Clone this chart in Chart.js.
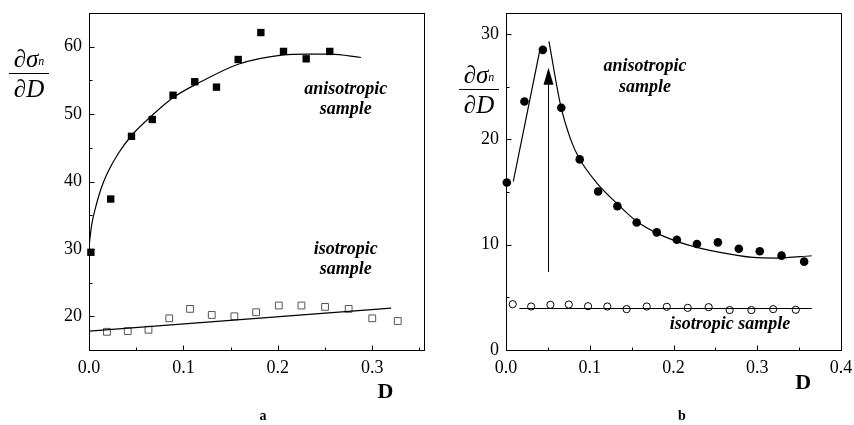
<!DOCTYPE html>
<html>
<head>
<meta charset="utf-8">
<script src="https://cdn.jsdelivr.net/npm/chart.js@4"></script>
<style>
  html, body { margin: 0; padding: 0; background: #fff; }
  #wrap { position: relative; width: 854px; height: 425px; }
  #left { position: absolute; left: 0; top: 0; }
  #right { position: absolute; left: 430px; top: 0; }
</style>
</head>
<body>
<div id="wrap">
  <canvas id="left" width="430" height="425"></canvas>
  <canvas id="right" width="424" height="425"></canvas>
</div>
<script>
// ---- panel a: measured points
const aAnisoD   = [0.002, 0.023, 0.045, 0.067, 0.089, 0.112, 0.135, 0.158, 0.182, 0.206, 0.230, 0.255];
const aAnisoVal = [29.5, 37.4, 46.7, 49.2, 52.8, 54.8, 54.0, 58.1, 62.1, 59.3, 58.2, 59.3];
const aIsoD     = [0.019, 0.041, 0.063, 0.085, 0.107, 0.130, 0.154, 0.177, 0.201, 0.225, 0.250, 0.275, 0.300, 0.327];
const aIsoVal   = [17.7, 17.8, 18.0, 19.7, 21.1, 20.2, 20.0, 20.6, 21.6, 21.6, 21.4, 21.1, 19.7, 19.3];
// panel a: fitted curves
const aAnisoFitD   = [0, 0.003, 0.008, 0.0132, 0.020, 0.031, 0.0447, 0.066, 0.0885, 0.120, 0.158, 0.204, 0.232, 0.256, 0.288];
const aAnisoFitVal = [30.4, 33.7, 36.7, 39.1, 41.4, 44.15, 46.75, 49.7, 52.4, 54.9, 57.4, 58.75, 58.9, 58.9, 58.4];
const aIsoFitD     = [0, 0.320];
const aIsoFitVal   = [17.8, 21.2];

// ---- panel b: measured points
const bAnisoD   = [0.001, 0.022, 0.044, 0.066, 0.088, 0.110, 0.133, 0.156, 0.180, 0.204, 0.228, 0.253, 0.278, 0.303, 0.329, 0.356];
const bAnisoVal = [15.9, 23.6, 28.5, 23.0, 18.1, 15.05, 13.66, 12.1, 11.17, 10.47, 10.06, 10.22, 9.62, 9.37, 8.96, 8.39];
const bIsoD     = [0.008, 0.030, 0.053, 0.075, 0.098, 0.121, 0.144, 0.168, 0.192, 0.217, 0.242, 0.267, 0.293, 0.319, 0.346];
const bIsoVal   = [4.35, 4.13, 4.29, 4.32, 4.16, 4.13, 3.88, 4.13, 4.10, 4.0, 4.07, 3.79, 3.79, 3.88, 3.82];
// panel b: fitted curves
const bRiseFitD    = [0.0087, 0.040];
const bRiseFitVal  = [16.0, 28.3];
const bDecayFitD   = [0.0513, 0.0653, 0.0772, 0.087, 0.108, 0.134, 0.156, 0.180, 0.216, 0.2555, 0.295, 0.323, 0.365];
const bDecayFitVal = [29.3, 23.2, 20.0, 18.25, 15.9, 13.8, 12.22, 11.1, 10.0, 9.27, 8.79, 8.73, 8.95];
const bIsoFitD     = [0.016, 0.365];
const bIsoFitVal   = [3.94, 3.94];
// arrow marking the peak
const bArrowD = 0.05;
const bArrowFrom = 7.4;
const bArrowTo = 26.8;

// ---- ticks
const aXTicks = [0, 0.1, 0.2, 0.3];
const aXMinor = [0.05, 0.15, 0.25, 0.35];
const aYTicks = [20, 30, 40, 50, 60];
const aYMinor = [25, 35, 45, 55];
const bXTicks = [0, 0.1, 0.2, 0.3, 0.4];
const bXMinor = [0.05, 0.15, 0.25, 0.35];
const bYTicks = [0, 10, 20, 30];
const bYMinor = [5, 15, 25];

const pts = (xs, ys) => xs.map((x, i) => ({ x, y: ys[i] }));
const SERIF = '"Liberation Serif", "Times New Roman", serif';

function drawFraction(ctx, cx, barY) {
  ctx.textBaseline = 'alphabetic';
  ctx.font = 'italic 25px ' + SERIF;
  const wNum = ctx.measureText('∂σ').width;
  ctx.font = 'italic 12px ' + SERIF;
  const wSub = ctx.measureText('n').width;
  const start = cx - (wNum + wSub) / 2;
  ctx.textAlign = 'left';
  ctx.font = 'italic 25px ' + SERIF;
  ctx.fillText('∂σ', start, barY - 6);
  ctx.font = 'italic 12px ' + SERIF;
  ctx.fillText('n', start + wNum, barY - 8);
  ctx.fillRect(cx - 20, barY, 40, 1);
  ctx.textAlign = 'center';
  ctx.font = 'italic 25px ' + SERIF;
  ctx.fillText('∂D', cx, barY + 24);
}

const decorPlugin = {
  id: 'decor',
  afterDatasetsDraw(chart, args, o) {
    const { ctx, chartArea: a, scales: { x, y } } = chart;
    ctx.save();
    ctx.strokeStyle = '#000';
    ctx.fillStyle = '#000';
    ctx.lineWidth = 1;
    const L = Math.round(a.left) + 0.5, R = Math.round(a.right) + 0.5;
    const T = Math.round(a.top) + 0.5, B = Math.round(a.bottom) + 0.5;
    ctx.strokeRect(L, T, R - L, B - T);

    // inward ticks
    ctx.beginPath();
    const xt = (v, len) => { const p = Math.round(x.getPixelForValue(v)) + 0.5; ctx.moveTo(p, B); ctx.lineTo(p, B - len); };
    const yt = (v, len) => { const p = Math.round(y.getPixelForValue(v)) + 0.5; ctx.moveTo(L, p); ctx.lineTo(L + len, p); };
    o.xMajor.forEach(v => xt(v, 5));
    o.xMinor.forEach(v => { if (v < x.max) xt(v, 3); });
    o.yMajor.forEach(v => yt(v, 5));
    o.yMinor.forEach(v => yt(v, 3));
    ctx.stroke();

    if (o.arrow) {
      const ax = Math.round(x.getPixelForValue(o.arrow.d)) + 0.5;
      const y0 = y.getPixelForValue(o.arrow.from);
      const tip = y.getPixelForValue(o.arrow.to);
      ctx.beginPath();
      ctx.moveTo(ax, y0);
      ctx.lineTo(ax, tip + 8);
      ctx.stroke();
      ctx.beginPath();
      ctx.moveTo(ax, tip);
      ctx.lineTo(ax - 5, tip + 17);
      ctx.lineTo(ax + 5, tip + 17);
      ctx.closePath();
      ctx.fill();
    }

    ctx.textAlign = 'center';
    ctx.textBaseline = 'middle';
    ctx.font = 'italic bold 18px ' + SERIF;
    o.notes.forEach(n => ctx.fillText(n.text, x.getPixelForValue(n.x), y.getPixelForValue(n.y)));

    ctx.font = 'bold 22px ' + SERIF;
    ctx.fillText('D', x.getPixelForValue(o.dAt), B + o.dDrop);

    ctx.font = 'bold 14px ' + SERIF;
    ctx.fillText(o.letter, o.letterX, 416);

    drawFraction(ctx, o.fracX, o.fracBar);
    ctx.restore();
  }
};

function axis(min, max, ticks, fmt, size, pad) {
  return {
    type: 'linear',
    min, max,
    afterFit: s => {
      if (s.isHorizontal()) s.height = size; else s.width = size;
      // let the layout padding alone decide the plot box
      s.paddingTop = 0; s.paddingBottom = 0; s.paddingLeft = 0; s.paddingRight = 0;
    },
    afterBuildTicks: s => { s.ticks = ticks.map(v => ({ value: v })); },
    grid: { display: false, drawTicks: false },
    border: { display: false },
    ticks: {
      color: '#000',
      font: { family: SERIF, size: 18 },
      padding: pad,
      maxRotation: 0,
      autoSkip: false,
      callback: fmt
    }
  };
}

function fitLine(data) {
  return {
    data, showLine: true, pointRadius: 0, borderColor: '#000', borderWidth: 1.2,
    tension: 0.4, cubicInterpolationMode: 'monotone', fill: false
  };
}

new Chart(document.getElementById('left'), {
  type: 'scatter',
  data: {
    datasets: [
      fitLine(pts(aAnisoFitD, aAnisoFitVal)),
      fitLine(pts(aIsoFitD, aIsoFitVal)),
      { data: pts(aAnisoD, aAnisoVal), pointStyle: 'rect', pointRadius: 5.2,
        backgroundColor: '#000', borderWidth: 0, clip: false },
      { data: pts(aIsoD, aIsoVal), pointStyle: 'rect', pointRadius: 4.8,
        backgroundColor: '#fff', borderColor: '#555', borderWidth: 1, clip: false }
    ]
  },
  options: {
    responsive: false,
    animation: false,
    events: [],
    layout: { padding: { top: 13, right: 3, left: 0, bottom: 0 } },
    plugins: {
      legend: { display: false },
      tooltip: { enabled: false },
      decor: {
        xMajor: aXTicks, xMinor: aXMinor, yMajor: aYTicks, yMinor: aYMinor,
        notes: [
          { text: 'anisotropic', x: 0.272, y: 53.6 },
          { text: 'sample', x: 0.272, y: 50.7 },
          { text: 'isotropic', x: 0.272, y: 30.0 },
          { text: 'sample', x: 0.272, y: 27.0 }
        ],
        dAt: 0.314, dDrop: 42, letter: 'a', letterX: 263,
        fracX: 29, fracBar: 73
      }
    },
    scales: {
      x: axis(0, 0.355, aXTicks, v => v.toFixed(1), 75, 7),
      y: axis(15, 65, aYTicks, v => String(v), 89, 7)
    }
  },
  plugins: [decorPlugin]
});

new Chart(document.getElementById('right'), {
  type: 'scatter',
  data: {
    datasets: [
      fitLine(pts(bRiseFitD, bRiseFitVal)),
      fitLine(pts(bDecayFitD, bDecayFitVal)),
      fitLine(pts(bIsoFitD, bIsoFitVal)),
      { data: pts(bAnisoD, bAnisoVal), pointStyle: 'circle', pointRadius: 4.3,
        backgroundColor: '#000', borderWidth: 0, clip: false },
      { data: pts(bIsoD, bIsoVal), pointStyle: 'circle', pointRadius: 3.6,
        backgroundColor: '#fff', borderColor: '#000', borderWidth: 1, clip: false }
    ]
  },
  options: {
    responsive: false,
    animation: false,
    events: [],
    layout: { padding: { top: 13, right: 13, left: 0, bottom: 0 } },
    plugins: {
      legend: { display: false },
      tooltip: { enabled: false },
      decor: {
        xMajor: bXTicks, xMinor: bXMinor, yMajor: bYTicks, yMinor: bYMinor,
        arrow: { d: bArrowD, from: bArrowFrom, to: bArrowTo },
        notes: [
          { text: 'anisotropic', x: 0.166, y: 26.95 },
          { text: 'sample', x: 0.166, y: 24.95 },
          { text: 'isotropic sample', x: 0.2675, y: 2.48 }
        ],
        dAt: 0.355, dDrop: 33, letter: 'b', letterX: 252,
        fracX: 49, fracBar: 89
      }
    },
    scales: {
      x: axis(0, 0.4, bXTicks, v => v.toFixed(1), 75, 7),
      y: axis(0, 32, bYTicks, v => String(v), 76, 7)
    }
  },
  plugins: [decorPlugin]
});
</script>
</body>
</html>
